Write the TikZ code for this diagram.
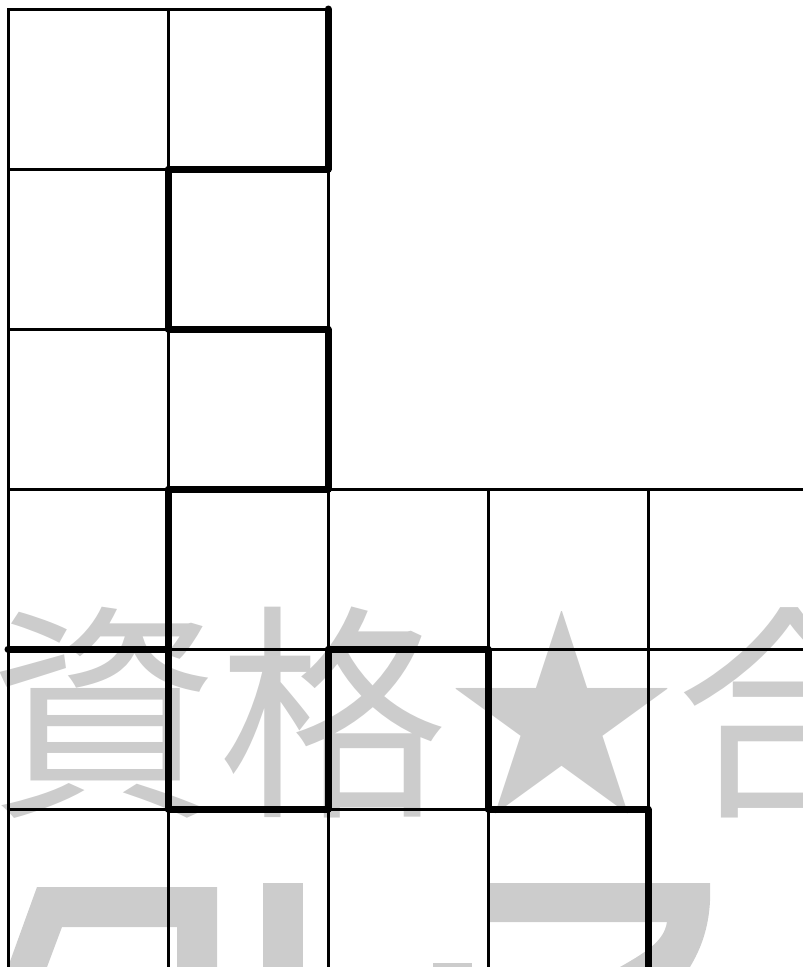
\documentclass[tikz,border=0pt]{standalone}
\usepackage{fontspec}
\newfontfamily\cjkfont{Noto Sans CJK JP}
\definecolor{wm}{HTML}{CCCCCC}
\tikzset{
  thin grid/.style={line width=3pt, line cap=rect},
  thick wall/.style={line width=7pt, line cap=round, line join=round},
  wmark/.style={fill=wm, draw=none}
}
\begin{document}
\begin{tikzpicture}[x=1pt,y=-1pt]
\useasboundingbox (0,0) rectangle (803,967);
% watermark text
\node[anchor=base west, inner sep=0pt, text=wm, font=\cjkfont\fontsize{229}{229}\selectfont] (wmtext) at (-11,799) {資格★合};
% partial watermark glyphs at the bottom
\fill[wmark] (37,887) -- (217,887) -- (217,967) -- (177,967) -- (177,927) -- (62,927) -- (47,967) -- (8,967) -- cycle;
\fill[wmark] (263,883) rectangle (303,967);
\fill[wmark] (490,883) -- (710,883) .. controls (712,925) and (700,950) .. (690,967) -- (620,967) .. controls (650,950) and (664,940) .. (667,922) -- (490,922) -- cycle;
\fill[wmark] (433,963) rectangle (472,967);
% thin grid
\draw[thin grid] (8,9) -- (328,9);
\draw[thin grid] (8,169) -- (328,169);
\draw[thin grid] (8,329) -- (328,329);
\draw[thin grid] (8,489) -- (803,489);
\draw[thin grid] (8,649) -- (803,649);
\draw[thin grid] (8,809) -- (648,809);
\draw[thin grid] (8,9) -- (8,967);
\draw[thin grid] (168,9) -- (168,967);
\draw[thin grid] (328,9) -- (328,967);
\draw[thin grid] (488,489) -- (488,967);
\draw[thin grid] (648,489) -- (648,967);
% thick walls
\draw[thick wall] (328,9) -- (328,169) -- (168,169) -- (168,329) -- (328,329) -- (328,489) -- (168,489) -- (168,809) -- (328,809) -- (328,649) -- (488,649) -- (488,809) -- (648,809) -- (648,970);
\draw[thick wall] (8,649) -- (168,649);
\end{tikzpicture}
\end{document}
